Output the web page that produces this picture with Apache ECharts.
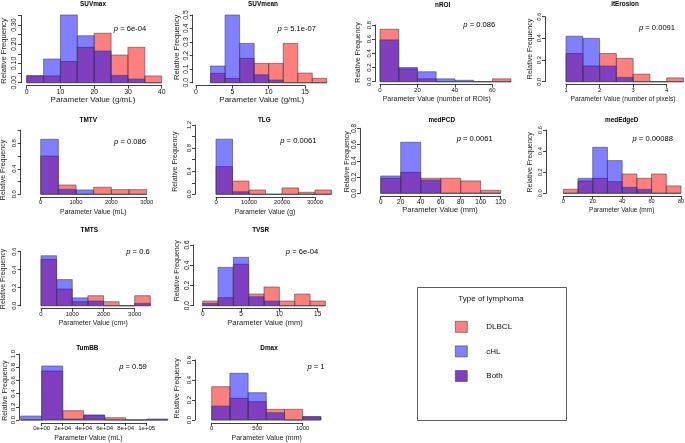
<!DOCTYPE html>
<html><head><meta charset="utf-8">
<script src="https://cdn.jsdelivr.net/npm/echarts@6/dist/echarts.min.js"></script>
<style>html,body{margin:0;padding:0;background:#fff}#c{width:685px;height:443px}</style>
</head><body><div id="c"></div>
<script>
// ---------- DATA ----------
const suvmaxBreaks = [0,5,10,15,20,25,30,35,40];
const suvmaxDLBCL  = [0.036,0.035,0.11,0.184,0.257,0.144,0.184,0.035];
const suvmaxCHL    = [0.036,0.123,0.352,0.244,0.165,0.038,0.019,0];
const suvmaxXTicks = [0,10,20,30,40];
const suvmaxXLabels= ['0','10','20','30','40'];
const suvmaxYTicks = [0,0.05,0.10,0.15,0.20,0.25,0.30,0.35];
const suvmaxYLabels= ['0.00','','0.10','','0.20','','0.30',''];

const suvmeanBreaks = [2,4,6,8,10,12,14,16,18];
const suvmeanDLBCL  = [0.069,0.032,0.18,0.143,0.143,0.29,0.071,0.032];
const suvmeanCHL    = [0.123,0.5,0.29,0.059,0.02,0,0,0];
const suvmeanXTicks = [0,5,10,15];
const suvmeanXLabels= ['0','5','10','15'];
const suvmeanYTicks = [0,0.1,0.2,0.3,0.4,0.5];
const suvmeanYLabels= ['0.0','0.1','0.2','0.3','0.4','0.5'];

const nroiBreaks = [0,10,20,30,40,50,60,70];
const nroiDLBCL  = [0.74,0.18,0.04,0,0,0,0.04];
const nroiCHL    = [0.59,0.2,0.14,0.04,0.02,0,0];
const nroiXTicks = [0,20,40,60];
const nroiXLabels= ['0','20','40','60'];
const nroiYTicks = [0,0.2,0.4,0.6,0.8];
const nroiYLabels= ['0.0','0.2','0.4','0.6','0.8'];

const iterBreaks = [1,1.5,2,2.5,3,3.5,4,4.5];
const iterDLBCL  = [0.26,0.145,0.26,0.215,0.07,0,0.035];
const iterCHL    = [0.42,0.40,0.145,0.04,0,0,0];
const iterXTicks = [1,2,3,4];
const iterXLabels= ['1','2','3','4'];
const iterYTicks = [0,0.2,0.4,0.6];
const iterYLabels= ['0.0','0.2','0.4','0.6'];

const tmtvBreaks = [0,500,1000,1500,2000,2500,3000];
const tmtvDLBCL  = [0.60,0.146,0,0.11,0.073,0.073];
const tmtvCHL    = [0.863,0.078,0.068,0,0,0];
const tmtvXTicks = [0,1000,2000,3000];
const tmtvXLabels= ['0','1000','2000','3000'];
const tmtvYTicks = [0,0.2,0.4,0.6,0.8,1.0];
const tmtvYLabels= ['0.0','','0.4','','0.8',''];

const tlgBreaks = [0,5000,10000,15000,20000,25000,30000,35000];
const tlgDLBCL  = [0.479,0.23,0.075,0,0.11,0.035,0.075];
const tlgCHL    = [0.955,0.045,0,0,0,0,0];
const tlgXTicks = [0,10000,20000,30000];
const tlgXLabels= ['0','10000','20000','30000'];
const tlgYTicks = [0,0.2,0.4,0.6,0.8,1.0,1.2];
const tlgYLabels= ['0.0','','0.4','','0.8','','1.2'];

const medpcdBreaks = [0,20,40,60,80,100,120];
const medpcdDLBCL  = [0.185,0.258,0.185,0.185,0.152,0.037];
const medpcdCHL    = [0.213,0.628,0.164,0,0,0];
const medpcdXTicks = [0,20,40,60,80,100,120];
const medpcdXLabels= ['0','20','40','60','80','100','120'];
const medpcdYTicks = [0,0.2,0.4,0.6,0.8];
const medpcdYLabels= ['0.0','0.2','0.4','0.6','0.8'];

const mededgeBreaks = [0,10,20,30,40,50,60,70,80];
const mededgeDLBCL  = [0.038,0.117,0.142,0.11,0.183,0.142,0.183,0.07];
const mededgeCHL    = [0,0.142,0.436,0.31,0.057,0.038,0,0];
const mededgeXTicks = [0,20,40,60,80];
const mededgeXLabels= ['0','20','40','60','80'];
const mededgeYTicks = [0,0.2,0.4,0.6];
const mededgeYLabels= ['0.0','0.2','0.4','0.6'];

const tmtsBreaks = [0,500,1000,1500,2000,2500,3000,3500];
const tmtsDLBCL  = [0.515,0.185,0.044,0.111,0.044,0,0.111];
const tmtsCHL    = [0.555,0.29,0.087,0.052,0,0,0.026];
const tmtsXTicks = [0,1000,2000,3000];
const tmtsXLabels= ['0','1000','2000','3000'];
const tmtsYTicks = [0,0.2,0.4,0.6];
const tmtsYLabels= ['0.0','0.2','0.4','0.6'];

const tvsrBreaks = [0,2,4,6,8,10,12,14,16];
const tvsrDLBCL  = [0.046,0.079,0.41,0.115,0.185,0.046,0.115,0.046];
const tvsrCHL    = [0.023,0.379,0.478,0.089,0.046,0,0,0];
const tvsrXTicks = [0,5,10,15];
const tvsrXLabels= ['0','5','10','15'];
const tvsrYTicks = [0,0.2,0.4,0.6];
const tvsrYLabels= ['0.0','0.2','0.4','0.6'];

const tumbbBreaks = [-20000,0,20000,40000,60000,80000,100000,120000];
const tumbbDLBCL  = [0,0.742,0.141,0.07,0.035,0,0];
const tumbbCHL    = [0.06,0.818,0.015,0.076,0,0,0.015];
const tumbbXTicks = [0,20000,40000,60000,80000,100000];
const tumbbXLabels= ['0e+00','2e+04','4e+04','6e+04','8e+04','1e+05'];
const tumbbYTicks = [0,0.2,0.4,0.6,0.8,1.0];
const tumbbYLabels= ['0.0','0.2','0.4','0.6','0.8','1.0'];

const dmaxBreaks = [0,200,400,600,800,1000,1200];
const dmaxDLBCL  = [0.333,0.217,0.183,0.107,0.107,0.033];
const dmaxCHL    = [0.14,0.467,0.273,0.073,0,0.033];
const dmaxXTicks = [0,500,1000];
const dmaxXLabels= ['0','500','1000'];
const dmaxYTicks = [0,0.2,0.4,0.6];
const dmaxYLabels= ['0.0','0.2','0.4','0.6'];

const legendTitle = 'Type of lymphoma';
const groupNames = ['DLBCL','cHL','Both'];

const panels = [
  {name:'SUVmax', breaks:suvmaxBreaks, dlbcl:suvmaxDLBCL, chl:suvmaxCHL, p:'6e-04', xlab:'Parameter Value (g/mL)', xt:suvmaxXTicks, xl:suvmaxXLabels, yt:suvmaxYTicks, yl:suvmaxYLabels},
  {name:'SUVmean', breaks:suvmeanBreaks, dlbcl:suvmeanDLBCL, chl:suvmeanCHL, p:'5.1e-07', xlab:'Parameter Value (g/mL)', xt:suvmeanXTicks, xl:suvmeanXLabels, yt:suvmeanYTicks, yl:suvmeanYLabels},
  {name:'nROI', breaks:nroiBreaks, dlbcl:nroiDLBCL, chl:nroiCHL, p:'0.086', xlab:'Parameter Value (number of ROIs)', xt:nroiXTicks, xl:nroiXLabels, yt:nroiYTicks, yl:nroiYLabels},
  {name:'itErosion', breaks:iterBreaks, dlbcl:iterDLBCL, chl:iterCHL, p:'0.0091', xlab:'Parameter Value (number of pixels)', xt:iterXTicks, xl:iterXLabels, yt:iterYTicks, yl:iterYLabels},
  {name:'TMTV', breaks:tmtvBreaks, dlbcl:tmtvDLBCL, chl:tmtvCHL, p:'0.086', xlab:'Parameter Value (mL)', xt:tmtvXTicks, xl:tmtvXLabels, yt:tmtvYTicks, yl:tmtvYLabels},
  {name:'TLG', breaks:tlgBreaks, dlbcl:tlgDLBCL, chl:tlgCHL, p:'0.0061', xlab:'Parameter Value (g)', xt:tlgXTicks, xl:tlgXLabels, yt:tlgYTicks, yl:tlgYLabels},
  {name:'medPCD', breaks:medpcdBreaks, dlbcl:medpcdDLBCL, chl:medpcdCHL, p:'0.0061', xlab:'Parameter Value (mm)', xt:medpcdXTicks, xl:medpcdXLabels, yt:medpcdYTicks, yl:medpcdYLabels},
  {name:'medEdgeD', breaks:mededgeBreaks, dlbcl:mededgeDLBCL, chl:mededgeCHL, p:'0.00088', xlab:'Parameter Value (mm)', xt:mededgeXTicks, xl:mededgeXLabels, yt:mededgeYTicks, yl:mededgeYLabels},
  {name:'TMTS', breaks:tmtsBreaks, dlbcl:tmtsDLBCL, chl:tmtsCHL, p:'0.6', xlab:'Parameter Value (cm²)', xt:tmtsXTicks, xl:tmtsXLabels, yt:tmtsYTicks, yl:tmtsYLabels},
  {name:'TVSR', breaks:tvsrBreaks, dlbcl:tvsrDLBCL, chl:tvsrCHL, p:'6e-04', xlab:'Parameter Value (mm)', xt:tvsrXTicks, xl:tvsrXLabels, yt:tvsrYTicks, yl:tvsrYLabels},
  {name:'TumBB', breaks:tumbbBreaks, dlbcl:tumbbDLBCL, chl:tumbbCHL, p:'0.59', xlab:'Parameter Value (mL)', xt:tumbbXTicks, xl:tumbbXLabels, yt:tumbbYTicks, yl:tumbbYLabels},
  {name:'Dmax', breaks:dmaxBreaks, dlbcl:dmaxDLBCL, chl:dmaxCHL, p:'1', xlab:'Parameter Value (mm)', xt:dmaxXTicks, xl:dmaxXLabels, yt:dmaxYTicks, yl:dmaxYLabels}
];

// ---------- LAYOUT (pixels) ----------
const layout = [
  {title:[93,4],    yAxisX:21,    x0:[0,26.7],  x1:[40,161.7],     base:82.7,  yRef:[0.30,25],   p:[130,29],    xtl:[93,100],     ytl:[3.5,51],    fs:8},
  {title:[263,4],   yAxisX:192.7, x0:[0,196],   x1:[15,305],       base:82.7,  yRef:[0.5,15],    p:[296.7,29.3],xtl:[261.7,100],  ytl:[177,47.3],  fs:8},
  {title:[442.7,5], yAxisX:375,   x0:[0,380],   x1:[60,492.3],     base:81.7,  yRef:[0.8,25],    p:[479.3,25],  xtl:[436.7,99.3], ytl:[358.3,52.5],fs:7},
  {title:[625,4],   yAxisX:545,   x0:[1,566],   x1:[4,666.7],      base:81.7,  yRef:[0.6,16.7],  p:[657,28.3],  xtl:[623,99.3],   ytl:[530,49],    fs:6.7},
  {title:[88.3,120],yAxisX:20.7,  x0:[0,40.7],  x1:[3000,146.7],   base:194.3, yRef:[0.8,143.3], p:[130,141.7], xtl:[93.3,211.7], ytl:[3.5,170],   fs:6.8},
  {title:[264.3,120],yAxisX:195,  x0:[0,216],   x1:[30000,315],    base:194.3, yRef:[1.2,125],   p:[298.3,141], xtl:[265,211.7],  ytl:[175,161.7], fs:6.8},
  {title:[441.7,120],yAxisX:360,  x0:[0,380.7], x1:[120,500.7],    base:193.3, yRef:[0.8,128.3], p:[474.7,139.3],xtl:[440,210],   ytl:[346.7,161.7],fs:7.5},
  {title:[621.7,120],yAxisX:546,  x0:[0,563.3], x1:[80,681],       base:193.3, yRef:[0.6,130],   p:[652.7,139.3],xtl:[621.7,210], ytl:[530,162.3], fs:6.5},
  {title:[89.3,230],yAxisX:20.7,  x0:[0,41],    x1:[3000,134.7],   base:305.7, yRef:[0.6,251.7], p:[138,251.7], xtl:[93.3,323.3], ytl:[3.5,279],   fs:6.9},
  {title:[260.7,230],yAxisX:193,  x0:[0,202.7], x1:[15,317.7],     base:305.7, yRef:[0.6,245],   p:[302,252.3], xtl:[265,323.3],  ytl:[176.7,270.7],fs:7.5},
  {title:[87.3,348.3],yAxisX:19,  x0:[0,41.7],  x1:[100000,146.7], base:420,   yRef:[1.0,354],   p:[133,367.3], xtl:[88.3,438.3], ytl:[5,390.7],   fs:7},
  {title:[269,348.3],yAxisX:195,  x0:[0,211.7], x1:[1000,302.7],   base:420,   yRef:[0.6,360],   p:[316,367.3], xtl:[266.7,438.3],ytl:[176.7,388.3],fs:7}
];

const FONT = 'Liberation Sans, Arial, Helvetica, sans-serif';
const RED = 'rgba(255,0,0,0.5)';
const BLUE = 'rgba(0,0,255,0.5)';
const PURPLE = 'rgb(128,64,191)';
const BORDER = 'rgba(70,70,70,0.75)';
const AXIS = '#111';

function binData(breaks, vals){
  return vals.map((v,j)=>[breaks[j], breaks[j+1], v]);
}
function labelFor(ticks, labels, v){
  const step = Math.abs(ticks[1]-ticks[0]);
  for (let j=0;j<ticks.length;j++) if (Math.abs(ticks[j]-v) < step*1e-3) return labels[j];
  return '';
}
function renderer(fill){
  return function(params, api){
    const a = api.coord([api.value(0), 0]);
    const b = api.coord([api.value(1), api.value(2)]);
    return {type:'rect', shape:{x:a[0], y:b[1], width:b[0]-a[0], height:a[1]-b[1]},
            style:{fill:fill, stroke:BORDER, lineWidth:0.8}};
  };
}

const grids=[], xAxes=[], yAxes=[], series=[], graphics=[];
panels.forEach((P,i)=>{
  const L = layout[i];
  const kx = (L.x1[1]-L.x0[1])/(L.x1[0]-L.x0[0]);
  const px = v => L.x0[1] + (v-L.x0[0])*kx;
  const ky = (L.base - L.yRef[1])/L.yRef[0];
  const py = v => L.base - v*ky;
  const aLeft = L.yAxisX;
  const aRight = Math.max(px(P.breaks[P.breaks.length-1]), px(P.xt[P.xt.length-1])) + 4;
  const maxV = Math.max(...P.dlbcl, ...P.chl, P.yt[P.yt.length-1]);
  const aTop = py(maxV) - 3, aBottom = L.base + 3;
  grids.push({left:aLeft, top:aTop, width:aRight-aLeft, height:aBottom-aTop, containLabel:false, outerBoundsMode:'none'});
  xAxes.push({gridIndex:2*i, type:'value', show:false,
    min: L.x0[0] + (aLeft-L.x0[1])/kx, max: L.x0[0] + (aRight-L.x0[1])/kx});
  yAxes.push({gridIndex:2*i, type:'value', show:false,
    min: -(aBottom-L.base)/ky, max: (L.base-aTop)/ky});
  const bLeft = px(P.xt[0]), bRight = px(P.xt[P.xt.length-1]);
  const bTop = py(P.yt[P.yt.length-1]);
  const tf = L.fs*0.86;
  grids.push({left:bLeft, top:bTop, width:bRight-bLeft, height:L.base-bTop, containLabel:false, outerBoundsMode:'none'});
  xAxes.push({gridIndex:2*i+1, type:'value', position:'bottom', offset:aBottom-L.base,
    min:P.xt[0], max:P.xt[P.xt.length-1], interval:P.xt[1]-P.xt[0],
    axisLine:{show:true, onZero:false, lineStyle:{color:AXIS, width:0.8}},
    axisTick:{show:true, length:3, lineStyle:{color:AXIS, width:0.8}},
    splitLine:{show:false},
    axisLabel:{show:true, fontSize:tf, fontFamily:FONT, color:'#111', margin:2.5, hideOverlap:false,
      showMinLabel:true, showMaxLabel:true, formatter:(v)=>labelFor(P.xt,P.xl,v)}});
  yAxes.push({gridIndex:2*i+1, type:'value', position:'left', offset:bLeft-aLeft,
    min:0, max:P.yt[P.yt.length-1], interval:P.yt[1]-P.yt[0],
    axisLine:{show:true, onZero:false, lineStyle:{color:AXIS, width:0.8}},
    axisTick:{show:true, length:3, lineStyle:{color:AXIS, width:0.8}},
    splitLine:{show:false},
    axisLabel:{show:true, fontSize:tf, fontFamily:FONT, color:'#111', margin:3, rotate:90, hideOverlap:false,
      showMinLabel:true, showMaxLabel:true, formatter:(v)=>labelFor(P.yt,P.yl,v)}});
  series.push({type:'custom', name:'DLBCL', xAxisIndex:2*i, yAxisIndex:2*i, clip:false, silent:true,
    itemStyle:{color:RED}, renderItem:renderer(RED), data:binData(P.breaks,P.dlbcl), encode:{x:[0,1], y:2}});
  series.push({type:'custom', name:'cHL', xAxisIndex:2*i, yAxisIndex:2*i, clip:false, silent:true,
    itemStyle:{color:BLUE}, renderItem:renderer(BLUE), data:binData(P.breaks,P.chl), encode:{x:[0,1], y:2}});
  graphics.push({type:'text', x:L.title[0], y:L.title[1], silent:true,
    style:{text:P.name, fontSize:6.4, fontWeight:'bold', fontFamily:FONT, fill:'#000', align:'center', verticalAlign:'middle', textAlign:'center', textVerticalAlign:'middle'}});
  graphics.push({type:'text', x:L.p[0], y:L.p[1], silent:true,
    style:{text:'{i|p} = '+P.p, fontSize:7.6, fontFamily:FONT, fill:'#000', align:'center', verticalAlign:'middle', textAlign:'center', textVerticalAlign:'middle',
      rich:{i:{fontStyle:'italic', fontSize:7.6, fontFamily:FONT, fill:'#000'}}}});
  graphics.push({type:'text', x:L.xtl[0], y:L.xtl[1], silent:true,
    style:{text:P.xlab, fontSize:L.fs, fontFamily:FONT, fill:'#222', align:'center', verticalAlign:'middle', textAlign:'center', textVerticalAlign:'middle'}});
  graphics.push({type:'text', x:L.ytl[0], y:L.ytl[1], rotation:Math.PI/2, silent:true,
    style:{text:'Relative Frequency', fontSize:Math.max(L.fs*0.95,7), fontFamily:FONT, fill:'#222', align:'center', verticalAlign:'middle', textAlign:'center', textVerticalAlign:'middle'}});
});

series.push({type:'custom', name:'Both', itemStyle:{color:PURPLE}, renderItem:()=>null, data:[], xAxisIndex:0, yAxisIndex:0});

graphics.push({type:'rect', shape:{x:417.5, y:287.5, width:149, height:133}, silent:true,
  style:{fill:'none', stroke:'#333', lineWidth:0.8}});
graphics.push({type:'text', x:491, y:298.5, silent:true,
  style:{text:legendTitle, fontSize:8, fontFamily:FONT, fill:'#111', align:'center', verticalAlign:'middle', textAlign:'center', textVerticalAlign:'middle'}});

const chart = echarts.init(document.getElementById('c'), null, {renderer:'canvas'});
chart.setOption({
  animation:false,
  backgroundColor:'#fff',
  grid:grids, xAxis:xAxes, yAxis:yAxes, series:series,
  legend:{orient:'vertical', left:450, top:316, itemWidth:12, itemHeight:11, itemGap:13, icon:'rect',
    data:groupNames, selectedMode:false,
    itemStyle:{borderColor:'#444', borderWidth:0.6},
    textStyle:{fontSize:8, fontFamily:FONT, color:'#111', padding:[0,0,0,14]}},
  graphic:{elements:graphics}
});
</script></body></html>
